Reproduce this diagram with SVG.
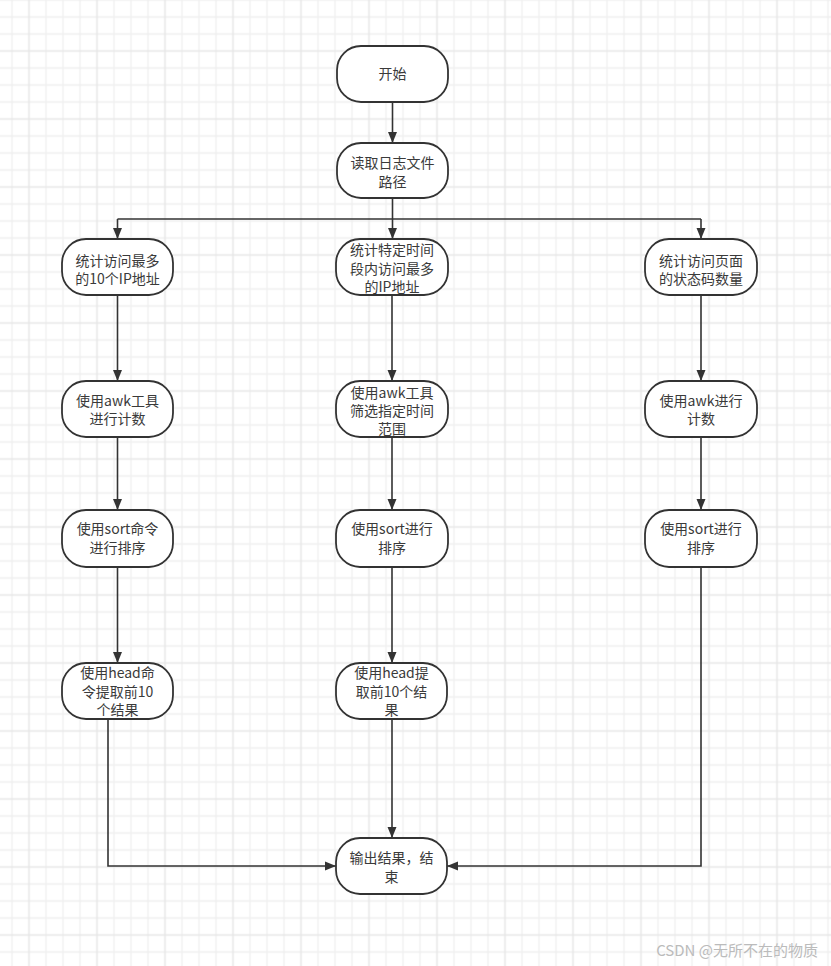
<svg xmlns="http://www.w3.org/2000/svg" width="831" height="966" viewBox="0 0 831 966">
<style>
.node rect{fill:#ffffff;stroke:#333333;stroke-width:1.8}
.node text{font-family:"Noto Sans CJK SC","Noto Sans",sans-serif;font-size:14px;fill:#3a3a3a;text-anchor:middle}
.conn path{fill:none;stroke:#333333;stroke-width:1.6}
.wm{font-family:"Noto Sans CJK SC","Noto Sans",sans-serif;font-size:15px;fill:#bbbbbb;text-anchor:end}
</style>
<defs>
<pattern id="grid" patternUnits="userSpaceOnUse" x="3.5" y="-8.5" width="68" height="68">
<g stroke="#efefef" stroke-width="1.4">
<line x1="8.5" y1="0" x2="8.5" y2="68"/>
<line x1="42.5" y1="0" x2="42.5" y2="68"/>
<line x1="59.5" y1="0" x2="59.5" y2="68"/>
<line x1="0" y1="8.5" x2="68" y2="8.5"/>
<line x1="0" y1="25.5" x2="68" y2="25.5"/>
<line x1="0" y1="42.5" x2="68" y2="42.5"/>
</g>
<g stroke="#e7e7e7" stroke-width="1.6">
<line x1="25.5" y1="0" x2="25.5" y2="68"/>
<line x1="0" y1="59.5" x2="68" y2="59.5"/>
</g>
</pattern>
<marker id="arr" markerUnits="userSpaceOnUse" markerWidth="12" markerHeight="10" refX="11" refY="5" orient="auto">
<path d="M0,0.5 L11,5 L0,9.5 z" fill="#333333"/>
</marker>
</defs>
<rect x="0" y="0" width="831" height="966" fill="#ffffff"/>
<rect x="0" y="0" width="831" height="966" fill="url(#grid)"/>

<g id="connectors" class="conn">
<path d="M392.5,102 V143" marker-end="url(#arr)"/>
<path d="M392.5,198 V239" marker-end="url(#arr)"/>
<path d="M117.5,219 H701"/>
<path d="M117.5,219 V239" marker-end="url(#arr)"/>
<path d="M701,219 V239" marker-end="url(#arr)"/>
<path d="M117.5,295 V381" marker-end="url(#arr)"/>
<path d="M117.5,437 V510" marker-end="url(#arr)"/>
<path d="M117.5,567 V663" marker-end="url(#arr)"/>
<path d="M108,719 V866 H336" marker-end="url(#arr)"/>
<path d="M392,295 V381" marker-end="url(#arr)"/>
<path d="M392,437 V510" marker-end="url(#arr)"/>
<path d="M392,567 V663" marker-end="url(#arr)"/>
<path d="M392,719 V838" marker-end="url(#arr)"/>
<path d="M701,295 V381" marker-end="url(#arr)"/>
<path d="M701,437 V510" marker-end="url(#arr)"/>
<path d="M701,567 V866 H447" marker-end="url(#arr)"/>
</g>

<g id="start" class="node">
<rect x="337" y="46" width="111" height="56" rx="24" ry="24"/>
<text x="392.5" y="79">开始</text>
</g>
<g id="readpath" class="node">
<rect x="337" y="143" width="111" height="55" rx="24" ry="24"/>
<text x="392.5" y="168">读取日志文件</text>
<text x="392.5" y="187">路径</text>
</g>

<g id="left1" class="node">
<rect x="62" y="239" width="111" height="56" rx="24" ry="24"/>
<text x="117.5" y="266">统计访问最多</text>
<text x="117.5" y="284">的10个IP地址</text>
</g>
<g id="mid1" class="node">
<rect x="336" y="239" width="112" height="56" rx="24" ry="24"/>
<text x="392" y="255">统计特定时间</text>
<text x="392" y="273.5">段内访问最多</text>
<text x="392" y="292">的IP地址</text>
</g>
<g id="right1" class="node">
<rect x="645" y="239" width="112" height="56" rx="24" ry="24"/>
<text x="701" y="266">统计访问页面</text>
<text x="701" y="284">的状态码数量</text>
</g>

<g id="left2" class="node">
<rect x="62" y="381" width="111" height="56" rx="24" ry="24"/>
<text x="117.5" y="406">使用awk工具</text>
<text x="117.5" y="424">进行计数</text>
</g>
<g id="mid2" class="node">
<rect x="336" y="381" width="112" height="56" rx="24" ry="24"/>
<text x="392" y="397.5">使用awk工具</text>
<text x="392" y="415.5">筛选指定时间</text>
<text x="392" y="433.5">范围</text>
</g>
<g id="right2" class="node">
<rect x="645" y="381" width="112" height="56" rx="24" ry="24"/>
<text x="701" y="406">使用awk进行</text>
<text x="701" y="424">计数</text>
</g>

<g id="left3" class="node">
<rect x="62" y="510" width="111" height="57" rx="24" ry="24"/>
<text x="117.5" y="534">使用sort命令</text>
<text x="117.5" y="553">进行排序</text>
</g>
<g id="mid3" class="node">
<rect x="336" y="510" width="112" height="57" rx="24" ry="24"/>
<text x="392" y="534">使用sort进行</text>
<text x="392" y="553">排序</text>
</g>
<g id="right3" class="node">
<rect x="645" y="510" width="112" height="57" rx="24" ry="24"/>
<text x="701" y="534">使用sort进行</text>
<text x="701" y="553">排序</text>
</g>

<g id="left4" class="node">
<rect x="62" y="663" width="111" height="56" rx="24" ry="24"/>
<text x="117.5" y="678">使用head命</text>
<text x="117.5" y="697">令提取前10</text>
<text x="117.5" y="715">个结果</text>
</g>
<g id="mid4" class="node">
<rect x="336" y="663" width="111" height="56" rx="24" ry="24"/>
<text x="391.5" y="678">使用head提</text>
<text x="391.5" y="697">取前10个结</text>
<text x="391.5" y="715">果</text>
</g>

<g id="end" class="node">
<rect x="336" y="838" width="111" height="56" rx="24" ry="24"/>
<text x="391.5" y="863">输出结果，结</text>
<text x="391.5" y="882">束</text>
</g>

<text class="wm" x="818" y="956">CSDN @无所不在的物质</text>
</svg>
